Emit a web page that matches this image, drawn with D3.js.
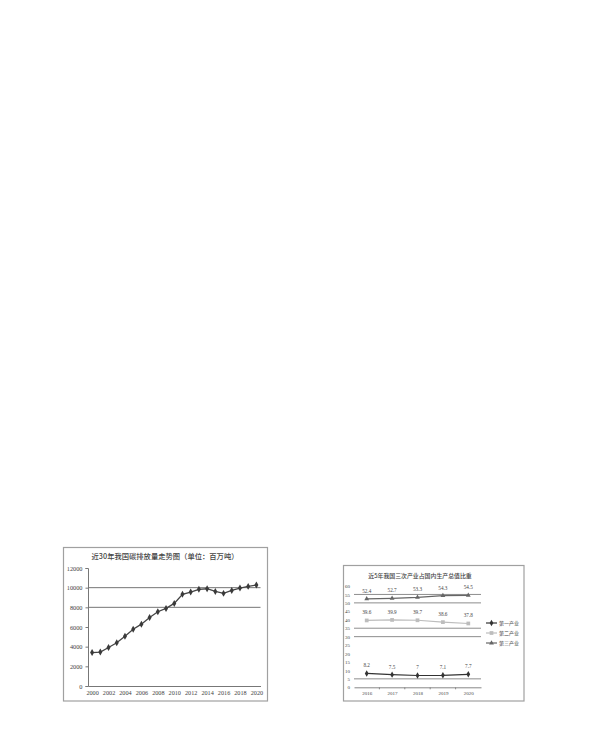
<!DOCTYPE html>
<html>
<head>
<meta charset="utf-8">
<script src="https://cdn.jsdelivr.net/npm/d3@7"></script>
<style>
  body { margin: 0; background: #fff; }
  svg { display: block; }
  text { font-family: "Liberation Serif", "Noto Sans CJK SC", serif; fill: #444; }
  .cjk { font-family: "Noto Sans CJK SC", sans-serif; }
</style>
</head>
<body>
<svg id="chart" width="600" height="733"></svg>
<script>
// carbon emissions, million tonnes, 2000-2020
const carbonYears = d3.range(2000, 2021);
const carbonValues = [3400, 3450, 3910, 4390, 5070, 5780, 6290, 6970, 7550, 7890,
  8400, 9320, 9550, 9830, 9890, 9620, 9420, 9720, 9960, 10130, 10270];
const carbonTicks = [0, 2000, 4000, 6000, 8000, 10000, 12000];
const carbonGrid = [8000, 10000];
const carbonTitle = '近30年我国碳排放量走势图（单位：百万吨）';

// share of GDP by industry, %, 2016-2020
const gdpYears = ['2016', '2017', '2018', '2019', '2020'];
const gdpSeries = [
  {name: '第一产业', values: [8.2, 7.5, 7, 7.1, 7.7]},
  {name: '第二产业', values: [39.6, 39.9, 39.7, 38.6, 37.8]},
  {name: '第三产业', values: [52.4, 52.7, 53.3, 54.3, 54.5]}
];
const gdpTicks = d3.range(0, 61, 5);
const gdpGrid = [5, 30, 35, 50, 55];
const gdpTitle = '近5年我国三次产业占国内生产总值比重';

const svg = d3.select('#chart');

// ---------- left chart ----------
const left = svg.append('g');
left.append('rect')
  .attr('x', 63.5).attr('y', 547.5).attr('width', 204).attr('height', 153.5)
  .attr('fill', '#fff').attr('stroke', '#a0a0a0').attr('stroke-width', 1.2);

left.append('text').attr('class', 'cjk')
  .attr('x', 165).attr('y', 558.5)
  .attr('text-anchor', 'middle')
  .attr('font-size', 7.3).attr('font-weight', 500)
  .attr('fill', '#555')
  .text(carbonTitle);

const x1 = d3.scalePoint().domain(carbonYears).range([88, 260.5]).padding(0.5);
const y1 = d3.scaleLinear().domain([0, 12000]).range([686, 568]);

left.append('g').selectAll('line').data(carbonGrid).join('line')
  .attr('x1', 88).attr('x2', 260.5)
  .attr('y1', d => y1(d)).attr('y2', d => y1(d))
  .attr('stroke', '#666').attr('stroke-width', 0.9);

const yAxis1 = left.append('g')
  .attr('transform', 'translate(88,0)')
  .call(d3.axisLeft(y1).tickValues(carbonTicks).tickSize(2.5).tickPadding(3)
    .tickFormat(d3.format('d')));
yAxis1.select('.domain').attr('stroke', '#777');
yAxis1.selectAll('.tick line').attr('stroke', '#777');
yAxis1.selectAll('text').attr('font-size', 6.3).attr('fill', '#555')
  .attr('font-family', 'Liberation Serif');

const xAxis1 = left.append('g')
  .attr('transform', 'translate(0,686)')
  .call(d3.axisBottom(x1).tickValues(carbonYears.filter(d => d % 2 === 0))
    .tickSize(0).tickPadding(5).tickFormat(d3.format('d')));
xAxis1.select('.domain').attr('stroke', '#777');
xAxis1.selectAll('text').attr('font-size', 6.2).attr('fill', '#555')
  .attr('font-family', 'Liberation Serif');

left.append('path')
  .datum(carbonValues)
  .attr('fill', 'none').attr('stroke', '#444').attr('stroke-width', 1.3)
  .attr('d', d3.line().x((d, i) => x1(carbonYears[i])).y(d => y1(d)));

left.append('g').selectAll('path').data(carbonValues).join('path')
  .attr('transform', (d, i) => `translate(${x1(carbonYears[i])},${y1(d)})`)
  .attr('d', d3.symbol(d3.symbolDiamond, 14))
  .attr('fill', '#3a3a3a');

// ---------- right chart ----------
const right = svg.append('g');
right.append('rect')
  .attr('x', 343.5).attr('y', 565.5).attr('width', 180.5).attr('height', 135.5)
  .attr('fill', '#fff').attr('stroke', '#a0a0a0').attr('stroke-width', 1.2);

right.append('text').attr('class', 'cjk')
  .attr('x', 420).attr('y', 578)
  .attr('text-anchor', 'middle')
  .attr('font-size', 5.9).attr('font-weight', 500)
  .attr('fill', '#555')
  .text(gdpTitle);

const x2 = d3.scalePoint().domain(gdpYears).range([354, 481]).padding(0.5);
const y2 = d3.scaleLinear().domain([0, 60]).range([687.3, 586]);

right.append('g').selectAll('line').data(gdpGrid).join('line')
  .attr('x1', 354).attr('x2', 481)
  .attr('y1', d => y2(d)).attr('y2', d => y2(d))
  .attr('stroke', '#808080').attr('stroke-width', 0.9);

const yAxis2 = right.append('g')
  .attr('transform', 'translate(354,0)')
  .call(d3.axisLeft(y2).tickValues(gdpTicks).tickSize(0).tickPadding(4));
yAxis2.select('.domain').remove();
yAxis2.selectAll('text').attr('font-size', 5).attr('fill', '#555')
  .attr('font-family', 'Liberation Serif');

const xAxis2 = right.append('g')
  .attr('transform', `translate(0,${y2(0)})`)
  .call(d3.axisBottom(x2).tickSize(0).tickPadding(4));
xAxis2.select('.domain').attr('stroke', '#888');
xAxis2.selectAll('text').attr('font-size', 5).attr('fill', '#555')
  .attr('font-family', 'Liberation Serif');
// category boundary ticks
xAxis2.append('g').selectAll('line').data(gdpYears.slice(1)).join('line')
  .attr('x1', d => x2(d) - x2.step() / 2).attr('x2', d => x2(d) - x2.step() / 2)
  .attr('y1', 0).attr('y2', 2).attr('stroke', '#888');

const seriesStyle = [
  {color: '#333', symbol: d3.symbolDiamond, size: 12},
  {color: '#bdbdbd', symbol: d3.symbolSquare, size: 14},
  {color: '#666', symbol: d3.symbolTriangle, size: 10}
];

const line2 = d3.line().x((d, i) => x2(gdpYears[i])).y(d => y2(d));

gdpSeries.forEach((s, k) => {
  const st = seriesStyle[k];
  const g = right.append('g');
  g.append('path').datum(s.values)
    .attr('fill', 'none').attr('stroke', st.color).attr('stroke-width', 1.2)
    .attr('d', line2);
  g.selectAll('path.pt').data(s.values).join('path').attr('class', 'pt')
    .attr('transform', (d, i) => `translate(${x2(gdpYears[i])},${y2(d)})`)
    .attr('d', d3.symbol(st.symbol, st.size))
    .attr('fill', st.color);
  g.selectAll('text').data(s.values).join('text')
    .attr('x', (d, i) => x2(gdpYears[i]))
    .attr('y', d => y2(d) - 6)
    .attr('text-anchor', 'middle')
    .attr('font-size', 5.2).attr('fill', '#666')
    .text(d => d);
});

// legend
const legend = right.append('g').attr('transform', 'translate(486,623)');
gdpSeries.forEach((s, k) => {
  const st = seriesStyle[k];
  const row = legend.append('g').attr('transform', `translate(0,${k * 10})`);
  row.append('line').attr('x1', 0).attr('x2', 11)
    .attr('stroke', st.color).attr('stroke-width', 1.2);
  row.append('path').attr('transform', 'translate(5.5,0)')
    .attr('d', d3.symbol(st.symbol, st.size)).attr('fill', st.color);
  row.append('text').attr('class', 'cjk')
    .attr('x', 13).attr('y', 1.8)
    .attr('font-size', 5).attr('fill', '#555')
    .text(s.name);
});
</script>
</body>
</html>
